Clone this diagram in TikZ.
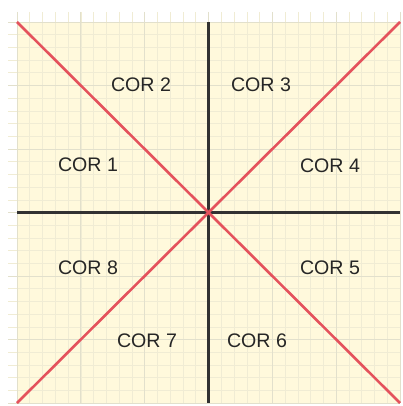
\documentclass[tikz,border=0pt]{standalone}
\usepackage{fontspec}
\setmainfont{Liberation Sans}
\usetikzlibrary{positioning, calc}
\definecolor{paper}{RGB}{255,249,220}
\definecolor{gridline}{RGB}{240,236,212}
\definecolor{gridmajor}{RGB}{226,224,204}
\definecolor{axisgray}{RGB}{50,50,50}
\definecolor{corred}{RGB}{228,82,92}

\begin{document}
\begin{tikzpicture}[
    x=1pt, y=-1pt,
    minor/.style={draw=gridline, line width=0.6pt},
    major/.style={draw=gridmajor, line width=0.9pt},
    axis/.style={draw=axisgray, line width=2.4pt},
    diag/.style={draw=corred, line width=2.6pt},
    sector/.style={text=black!85, font=\fontsize{19.6}{22}\selectfont}
]
\useasboundingbox (0,0) rectangle (403,406);

% paper and grid
\fill[paper] (17,22) rectangle (400,403);
\foreach \i in {0,...,30} {
    \draw[minor] ({17+\i*12.767},12) -- ({17+\i*12.767},403);
    \draw[minor] (8,{22+\i*12.7}) -- (400,{22+\i*12.7});
}
\foreach \i in {0,...,6} {
    \draw[major] ({17+\i*63.83},12) -- ({17+\i*63.83},403);
    \draw[major] (8,{22+\i*63.5}) -- (400,{22+\i*63.5});
}

% corners and centre
\coordinate (tl) at (17,22);
\coordinate (tr) at (400,22);
\coordinate (bl) at (17,403);
\coordinate (br) at (400,403);
\coordinate (o) at (208.5,212.5);
\coordinate (top) at (208.5,22);
\coordinate (bottom) at (208.5,403);
\coordinate (left) at (17,212.5);
\coordinate (right) at (400,212.5);

\draw[axis] (top) -- (bottom);
\draw[axis] (left) -- (right);
\draw[diag] (tl) -- (br);
\draw[diag] (bl) -- (tr);

% sector labels
\node[sector] (c1) at (88,165) {COR 1};
\node[sector] (c2) at (141,85) {COR 2};
\node[sector] (c3) at (261,85) {COR 3};
\node[sector] (c4) at (330,166) {COR 4};
\node[sector] (c5) at (330,268) {COR 5};
\node[sector] (c6) at (257,341) {COR 6};
\node[sector] (c7) at (147,341) {COR 7};
\node[sector] (c8) at (88,268) {COR 8};

\end{tikzpicture}
\end{document}
